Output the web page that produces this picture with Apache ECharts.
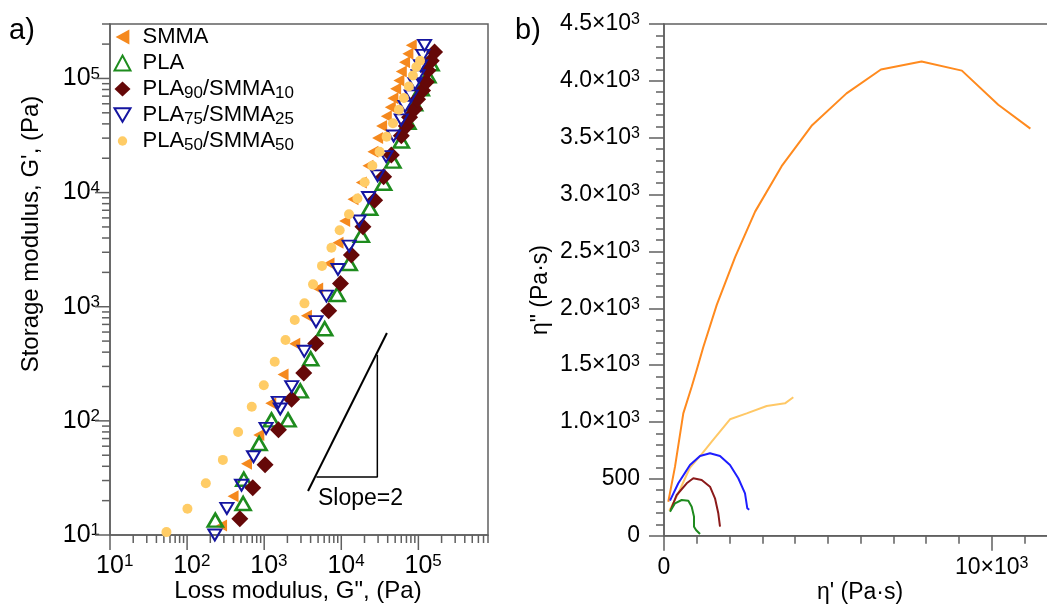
<!DOCTYPE html>
<html><head><meta charset="utf-8">
<script src="https://cdn.jsdelivr.net/npm/echarts@6/dist/echarts.min.js"></script>
<style>html,body{margin:0;padding:0;background:#fff}#c{width:1047px;height:608px}</style>
</head><body><div id="c"></div><script>
// ---------- Panel a) : G' vs G'' (Pa) ----------
const smmaG = [[280,12.1],[395,21.8],[590,42.1],[851,75.0],[1217,143],[1757,255],[2489,474],[3532,835],[4943,1442],[6930,2393],[9060,3640],[11070,5640],[14180,8750],[18200,12270],[22170,17170],[25730,22800],[29600,30100],[33340,38400],[38370,46700],[43250,56000],[46730,67200],[50660,81100],[55880,96000],[60030,115000],[66250,139000],[73100,165000],[80900,195000]];
const plaG = [[232,13.5],[533,18.9],[544,30.8],[859,63.4],[1243,102],[2039,102],[2935,183],[4014,350],[6095,641],[8847,1278],[12660,2393],[18200,4220],[23320,7290],[35400,12090],[46730,18880],[60030,28300],[73100,41370],[89260,59920],[109000,81100],[132800,105600],[146000,134600]];
const pla90G = [[483,13.9],[711,26.0],[1027,41.3],[1532,83.5],[2264,154.5],[3257,263],[4660,476],[6866,924],[9760,1596],[13510,2843],[19100,5012],[27070,8575],[35400,13800],[44560,21330],[60030,31520],[69700,38400],[76900,45760],[89260,54130],[97600,65600],[113300,78400],[126500,92900],[132800,117600],[146900,143100],[162100,170600]];
const pla75G = [[229,10.0],[328,17.1],[508,27.3],[727,48.5],[1058,85.9],[1523,145],[1616,127],[2277,199.5],[3306,407],[4700,740],[6412,1240],[9060,2120],[12660,3396],[17060,5640],[22630,9060],[29600,14030],[38150,20690],[47720,31330],[60030,43300],[67230,56950],[80900,70430],[90600,89800],[99100,105600],[106800,129300],[114400,159300],[120300,195000]];
const pla50G = [[54,10.6],[101,17.0],[175,28.4],[291,45.5],[459,80],[690,133],[988,205],[1370,329],[1890,511],[2490,765],[3330,1070],[4300,1570],[5620,2280],[7450,3290],[9530,4670],[12600,6460],[16200,8870],[20100,12300],[25300,17200],[31400,22800],[38700,30800],[46800,40500],[55900,53100],[64900,67300],[75300,85100],[84900,106000],[94000,126000],[105000,143000]];
// slope = 2 guide (data coordinates)
const slopeLine = [[3704,24.3],[39070,588]];
const slopeTri = [[4758,32.2],[29350,32.2],[29350,379]];
// log axis extents and decades
const gppMin = 10, gppMax = 8e5, gpMin = 10, gpMax = 3e5;
const logDecades = [1,2,3,4,5];

// ---------- Panel b) : eta'' vs eta' (Pa.s) ----------
const etaSMMA = [[131,299],[336,607],[589,1076],[845,1310],[1000,1460],[1200,1660],[1610,2030],[2170,2450],[2780,2850],[3590,3250],[4520,3610],[5570,3890],[6620,4100],[7860,4170],[9090,4090],[10200,3790],[11180,3580]];
const etaPLA50 = [[162,220],[436,373],[793,600],[1150,718],[1456,827],[2014,1024],[2524,1076],[3134,1141],[3692,1164],[3946,1217]];
const etaPLA75 = [[183,308],[436,461],[793,622],[1099,701],[1404,725],[1709,701],[2014,622],[2267,505],[2472,373],[2542,241],[2600,228]];
const etaPLA90 = [[204,226],[388,358],[693,461],[894,505],[1150,490],[1404,431],[1556,329],[1657,197],[1709,79]];
const etaPLA = [[183,211],[336,285],[540,314],[742,308],[845,255],[916,167],[916,79],[977,50],[1099,15]];

const FONT = "'Liberation Sans', Arial, Helvetica, sans-serif";
const AX = '#606060';

function isDecade(v){
  const e = Math.round(Math.log10(v));
  return Math.abs(v - Math.pow(10, e)) / v < 1e-6 ? e : null;
}
function logLabelY(v){ const e = isDecade(v); return e === null ? '' : '10{sup|' + e + '}'; }
function logLabelX(v){ const e = isDecade(v); return e === null ? '' : '{sp|\u00a0}10{sup|' + e + '}'; }
function etaYLabel(v){
  if (v === 0) return '0';
  if (v === 500) return '500';
  return (v/1000).toFixed(1) + '×10{sup|3}';
}
function etaXLabel(v){
  if (v === 0) return '0';
  if (v === 10000) return '10×10{sup|3}';
  return '';
}
const richLeft = {
  sup: {fontSize: 17, lineHeight: 10, verticalAlign: 'top', fontFamily: FONT, color: '#000'},
  sp: {width: 9.5, fontSize: 17, fontFamily: FONT}
};
const richRight = {
  sup: {fontSize: 16, lineHeight: 10, verticalAlign: 'top', fontFamily: FONT, color: '#000'}
};
// log-axis ticks (major at decades, minor at 2..9)
const xTicks = [], yTicks = [];
logDecades.forEach(e => {
  for (let m = 1; m <= 9; m++) {
    const v = m * Math.pow(10, e);
    if (v <= gppMax * 1.0001) xTicks.push([v, gpMin, m === 1 ? 15 : 8]);
    if (v <= gpMax * 1.0001) yTicks.push([gppMin, v, m === 1 ? 15 : 8]);
  }
});
function tickRender(isX){
  return function(params, api){
    const p = api.coord([api.value(0), api.value(1)]);
    const len = api.value(2);
    const shape = isX ? {x1:p[0], y1:p[1], x2:p[0], y2:p[1]+len}
                      : {x1:p[0]-len, y1:p[1], x2:p[0], y2:p[1]};
    return {type:'line', shape: shape, style:{stroke:AX, lineWidth:1.5}};
  };
}

const leftTri = 'path://M0,6 L11,0 L11,12 Z';
const downTri = 'path://M0,0 L14,0 L7,12 Z';
const smallCircle = 'path://M-8,-8 M8,8 M5,0 A5,5 0 1,1 -5,0 A5,5 0 1,1 5,0 Z';

const C = {smma:'#F5891E', pla:'#1E8C1E', pla90:'#650808', pla75:'#1515A0', pla50:'#FFCC66'};
const L = {smma:'#FF8A1E', pla50:'#FFC866', pla75:'#1E1EFF', pla90:'#8B1A1A', pla:'#1E8A1E'};

const axisLineStyle = {show:true, onZero:false, lineStyle:{color:AX, width:1.5}};
const noEmph = {disabled:true};

const option = {
  animation: false,
  backgroundColor: '#fff',
  textStyle: {fontFamily: FONT},
  grid: [
    {left:110, top:24, width:378, height:511, show:true, borderColor:AX, borderWidth:1.5, backgroundColor:'transparent', outerBoundsMode:'none', containLabel:false},
    {left:664, top:24, width:655.4, height:511.7, show:true, borderColor:AX, borderWidth:1.5, backgroundColor:'transparent', outerBoundsMode:'none', containLabel:false}
  ],
  xAxis: [
    {gridIndex:0, type:'log', logBase:10, min:gppMin, max:gppMax, axisLine:axisLineStyle,
     axisTick:{show:false}, splitLine:{show:false},
     axisLabel:{formatter:logLabelX, margin:18, fontSize:25, lineHeight:26, color:'#000', fontFamily:FONT, rich:richLeft}},
    {gridIndex:1, type:'value', min:0, max:20000, interval:10000, axisLine:axisLineStyle,
     axisTick:{show:true, length:15, lineStyle:{color:AX, width:1.5}},
     minorTick:{show:true, splitNumber:10, length:8, lineStyle:{color:AX, width:1.5}},
     splitLine:{show:false}, minorSplitLine:{show:false},
     axisLabel:{formatter:etaXLabel, margin:20, fontSize:23, lineHeight:24, color:'#000', fontFamily:FONT, rich:richRight}}
  ],
  yAxis: [
    {gridIndex:0, type:'log', logBase:10, min:gpMin, max:gpMax, axisLine:axisLineStyle,
     axisTick:{show:false}, splitLine:{show:false},
     axisLabel:{formatter:logLabelY, margin:10, fontSize:25, lineHeight:26, color:'#000', fontFamily:FONT, rich:richLeft}},
    {gridIndex:1, type:'value', min:0, max:4500, interval:500, axisLine:axisLineStyle,
     axisTick:{show:true, length:15, lineStyle:{color:AX, width:1.5}},
     minorTick:{show:true, splitNumber:5, length:8, lineStyle:{color:AX, width:1.5}},
     splitLine:{show:false}, minorSplitLine:{show:false},
     axisLabel:{formatter:etaYLabel, margin:24, fontSize:23, lineHeight:24, color:'#000', fontFamily:FONT, rich:richRight}}
  ],
  legend: {
    orient:'vertical', left:113.5, top:24, padding:0, itemGap:0, itemWidth:16, itemHeight:15,
    selectedMode:false,
    data:[
      {name:'SMMA', icon:leftTri},
      {name:'PLA', icon:'triangle'},
      {name:'PLA90/SMMA10', icon:'diamond'},
      {name:'PLA75/SMMA25', icon:downTri},
      {name:'PLA50/SMMA50', icon:smallCircle}
    ],
    formatter: n => n.replace(/(\d+)/g, '{sub|$1}'),
    textStyle:{fontSize:22, lineHeight:26, color:'#000', fontFamily:FONT, padding:[0,0,0,7],
      rich:{sub:{fontSize:17, lineHeight:16, verticalAlign:'bottom', fontFamily:FONT, color:'#000'}}}
  },
  series: [
    {type:'custom', name:'xticks', xAxisIndex:0, yAxisIndex:0, clip:false, silent:true, data:xTicks, renderItem:tickRender(true), z:1},
    {type:'custom', name:'yticks', xAxisIndex:0, yAxisIndex:0, clip:false, silent:true, data:yTicks, renderItem:tickRender(false), z:1},
    {type:'line', name:'slope', xAxisIndex:0, yAxisIndex:0, data:slopeLine, symbol:'none', silent:true,
     lineStyle:{color:'#000', width:2}},
    {type:'line', name:'slopeTri', xAxisIndex:0, yAxisIndex:0, data:slopeTri, symbol:'none', silent:true,
     lineStyle:{color:'#000', width:1.5}},
    {type:'scatter', name:'SMMA', xAxisIndex:0, yAxisIndex:0, data:smmaG, symbol:leftTri, symbolSize:[11,12],
     itemStyle:{color:C.smma, opacity:1}, emphasis:noEmph},
    {type:'scatter', name:'PLA', xAxisIndex:0, yAxisIndex:0, data:plaG, symbol:'triangle', symbolSize:[15,13],
     itemStyle:{color:'rgba(255,255,255,0)', borderColor:C.pla, borderWidth:2.6, opacity:1}, emphasis:noEmph},
    {type:'scatter', name:'PLA90/SMMA10', xAxisIndex:0, yAxisIndex:0, data:pla90G, symbol:'diamond', symbolSize:17,
     itemStyle:{color:C.pla90, opacity:1}, emphasis:noEmph},
    {type:'scatter', name:'PLA75/SMMA25', xAxisIndex:0, yAxisIndex:0, data:pla75G, symbol:downTri, symbolSize:[13,11],
     itemStyle:{color:'rgba(255,255,255,0)', borderColor:C.pla75, borderWidth:2, opacity:1}, emphasis:noEmph},
    {type:'scatter', name:'PLA50/SMMA50', xAxisIndex:0, yAxisIndex:0, data:pla50G, symbol:'circle', symbolSize:10,
     itemStyle:{color:C.pla50, opacity:1}, emphasis:noEmph},
    {type:'line', name:'eta SMMA', xAxisIndex:1, yAxisIndex:1, data:etaSMMA, symbol:'none', lineStyle:{color:L.smma, width:2}},
    {type:'line', name:'eta PLA50', xAxisIndex:1, yAxisIndex:1, data:etaPLA50, symbol:'none', lineStyle:{color:L.pla50, width:2}},
    {type:'line', name:'eta PLA75', xAxisIndex:1, yAxisIndex:1, data:etaPLA75, symbol:'none', lineStyle:{color:L.pla75, width:2}},
    {type:'line', name:'eta PLA90', xAxisIndex:1, yAxisIndex:1, data:etaPLA90, symbol:'none', lineStyle:{color:L.pla90, width:2}},
    {type:'line', name:'eta PLA', xAxisIndex:1, yAxisIndex:1, data:etaPLA, symbol:'none', lineStyle:{color:L.pla, width:2}}
  ],
  graphic: [
    {type:'text', left:9, top:16, style:{text:'a)', fontSize:29, fontFamily:FONT, fill:'#000'}},
    {type:'text', left:515, top:16, style:{text:'b)', fontSize:29, fontFamily:FONT, fill:'#000'}},
    {type:'text', x:298, y:591, style:{text:'Loss modulus, G", (Pa)', fontSize:24, fontFamily:FONT, fill:'#000', align:'center', verticalAlign:'middle'}},
    {type:'text', x:31, y:234, rotation:Math.PI/2, style:{text:"Storage modulus, G', (Pa)", fontSize:24, fontFamily:FONT, fill:'#000', align:'center', verticalAlign:'middle'}},
    {type:'text', x:860, y:593, style:{text:"η' (Pa·s)", fontSize:23, fontFamily:FONT, fill:'#000', align:'center', verticalAlign:'middle'}},
    {type:'text', x:541, y:290, rotation:Math.PI/2, style:{text:'η" (Pa·s)', fontSize:23, fontFamily:FONT, fill:'#000', align:'center', verticalAlign:'middle'}},
    {type:'text', x:318, y:499, style:{text:'Slope=2', fontSize:23, fontFamily:FONT, fill:'#000', align:'left', verticalAlign:'middle'}}
  ]
};
const chart = echarts.init(document.getElementById('c'), null, {renderer:'canvas'});
chart.setOption(option);
</script></body></html>
